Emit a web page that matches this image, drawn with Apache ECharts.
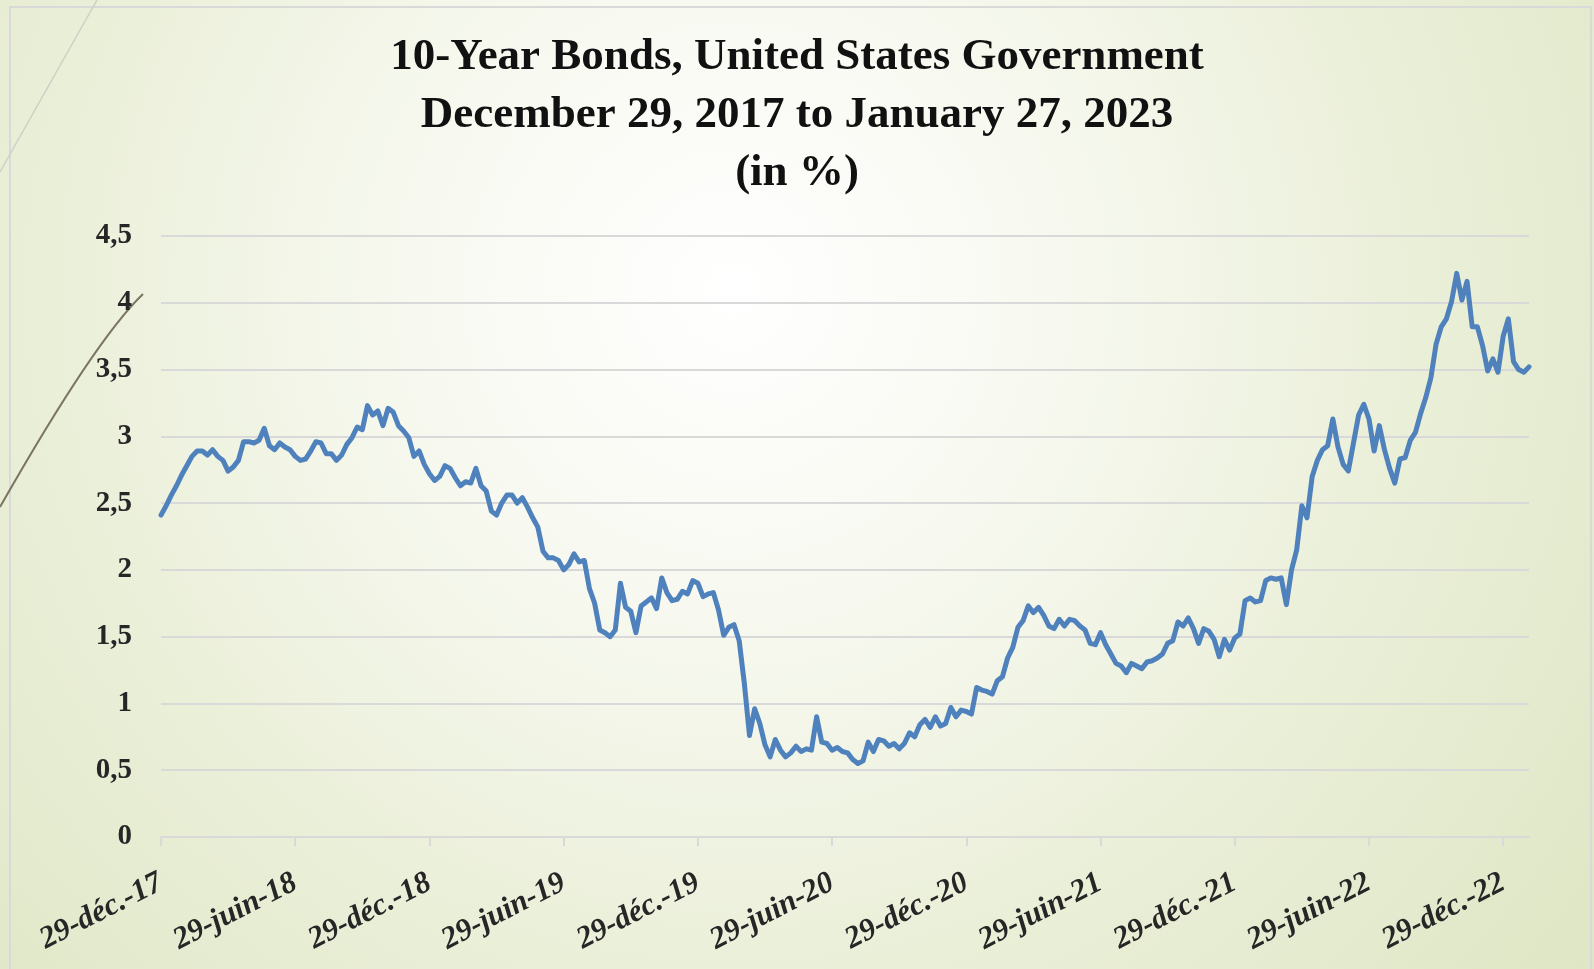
<!DOCTYPE html>
<html>
<head>
<meta charset="utf-8">
<script src="https://cdn.jsdelivr.net/npm/echarts@6/dist/echarts.min.js"></script>
<style>
html, body { margin:0; padding:0; width:1594px; height:969px; overflow:hidden;
  background: radial-gradient(circle 1150px at 46% 30%, #ffffff 0%, #f7f9f0 28%, #eaefd8 60%, #dde5c2 100%); }
#chart { width:1594px; height:969px; }
</style>
</head>
<body>
<div id="chart"></div>
<script>
// ---- Data (weekly, Friday values, %) ----
const startDate = '2017-12-29';
const titleLines = ['10-Year Bonds, United States Government', 'December 29, 2017 to January 27, 2023', '(in %)'];
const xTickLabels = ['29-déc.-17','29-juin-18','29-déc.-18','29-juin-19','29-déc.-19','29-juin-20','29-déc.-20','29-juin-21','29-déc.-21','29-juin-22','29-déc.-22'];
const yTicks = [0, 0.5, 1, 1.5, 2, 2.5, 3, 3.5, 4, 4.5];

const yields2018 = [2.41,2.48,2.56,2.63,2.71,2.78,2.85,2.89,2.89,2.86,2.90,2.85,2.82,2.74,2.77,2.82,2.96,2.96,2.95,2.97,3.06,2.93,2.90,2.95,2.92,2.90,2.85,2.82,2.83,2.89,2.96,2.95,2.87,2.87,2.82,2.86,2.94,2.99,3.07,3.05,3.23,3.16,3.19,3.08,3.21,3.18,3.08,3.04,2.99,2.85,2.89,2.79,2.72];
const yields2019 = [2.67,2.70,2.78,2.76,2.69,2.63,2.66,2.65,2.76,2.63,2.59,2.44,2.41,2.50,2.56,2.56,2.50,2.54,2.47,2.39,2.32,2.14,2.09,2.09,2.07,2.00,2.04,2.12,2.06,2.07,1.86,1.75,1.55,1.53,1.50,1.55,1.90,1.72,1.69,1.53,1.73,1.76,1.79,1.71,1.94,1.83,1.77,1.78,1.84,1.82,1.92,1.90];
const yields2020 = [1.80,1.82,1.83,1.70,1.51,1.57,1.59,1.47,1.15,0.76,0.96,0.85,0.69,0.60,0.73,0.65,0.60,0.63,0.68,0.64,0.66,0.65,0.90,0.71,0.70,0.65,0.67,0.64,0.63,0.58,0.55,0.57,0.71,0.64,0.73,0.72,0.68,0.70,0.66,0.70,0.78,0.75,0.84,0.88,0.82,0.90,0.83,0.85,0.97,0.90,0.95,0.94,0.92];
const yields2021 = [1.12,1.10,1.09,1.07,1.17,1.20,1.34,1.42,1.57,1.62,1.73,1.68,1.72,1.66,1.58,1.56,1.63,1.58,1.63,1.62,1.58,1.55,1.45,1.44,1.53,1.44,1.37,1.30,1.28,1.23,1.30,1.28,1.26,1.31,1.32,1.34,1.37,1.45,1.47,1.61,1.58,1.64,1.56,1.45,1.56,1.54,1.48,1.35,1.48,1.40,1.49,1.52];
const yields2022 = [1.77,1.79,1.76,1.77,1.92,1.94,1.93,1.94,1.74,2.00,2.15,2.48,2.39,2.70,2.82,2.90,2.93,3.13,2.92,2.79,2.74,2.95,3.16,3.24,3.13,2.89,3.08,2.90,2.76,2.65,2.83,2.84,2.97,3.03,3.17,3.29,3.44,3.69,3.82,3.88,4.01,4.22,4.02,4.16,3.82,3.82,3.68,3.49,3.58,3.48,3.75,3.88];
const yields2023 = [3.56,3.50,3.48,3.52];

const values = [].concat(yields2018, yields2019, yields2020, yields2021, yields2022, yields2023);
const categories = [];
{
  const t0 = Date.parse(startDate + 'T00:00:00Z');
  for (let i = 0; i < values.length; i++) {
    categories.push(new Date(t0 + i * 7 * 86400000).toISOString().slice(0, 10));
  }
}

const chart = echarts.init(document.getElementById('chart'), null, { renderer: 'canvas' });
const serif = '"Liberation Serif", "DejaVu Serif", serif';
const gridColor = '#d9d9d9';

chart.setOption({
  backgroundColor: 'transparent',
  animation: false,
  title: {
    text: titleLines.join('\n'),
    left: 'center',
    top: 28,
    padding: 0,
    textStyle: { fontFamily: serif, fontWeight: 'bold', fontSize: 45, lineHeight: 58, color: '#111111' }
  },
  graphic: [
    { type: 'rect', z: -10, silent: true, shape: { x: 10, y: 7, width: 1581, height: 980 },
      style: { fill: 'none', stroke: '#d9d9d9', lineWidth: 2 } },
    { type: 'line', z: -10, silent: true, shape: { x1: 97, y1: 0, x2: 0, y2: 172 },
      style: { stroke: '#cfd0c4', lineWidth: 1.5 } },
    { type: 'bezierCurve', z: -10, silent: true, shape: { x1: 143, y1: 294, cpx1: 95, cpy1: 340, x2: 0, y2: 507 },
      style: { stroke: '#7b7460', lineWidth: 2, fill: 'none' } }
  ],
  grid: { left: 161, right: 65, top: 236, bottom: 132, containLabel: false },
  xAxis: {
    type: 'category',
    data: categories,
    boundaryGap: false,
    axisLine: { show: true, lineStyle: { color: gridColor, width: 2 } },
    axisTick: { show: true, interval: 25, length: 9, lineStyle: { color: gridColor, width: 2 } },
    axisLabel: {
      interval: 25,
      rotate: 27,
      margin: 44,
      fontFamily: serif, fontWeight: 'bold', fontStyle: 'italic', fontSize: 31, color: '#262626',
      formatter: function (v, idx) { const k = idx / 26; return Number.isInteger(k) && xTickLabels[k] ? xTickLabels[k] : ''; }
    },
    splitLine: { show: false }
  },
  yAxis: {
    type: 'value',
    min: yTicks[0],
    max: yTicks[yTicks.length - 1],
    interval: 0.5,
    axisLine: { show: false },
    axisTick: { show: false },
    axisLabel: {
      margin: 29,
      fontFamily: serif, fontWeight: 'bold', fontSize: 29, color: '#262626',
      formatter: function (v) { return String(v).replace('.', ','); }
    },
    splitLine: { show: true, lineStyle: { color: gridColor, width: 2 } }
  },
  series: [{
    type: 'line',
    data: values,
    showSymbol: false,
    smooth: false,
    lineStyle: { color: '#4f81bd', width: 5, cap: 'round', join: 'round' },
    itemStyle: { color: '#4f81bd' }
  }]
});
</script>
</body>
</html>
